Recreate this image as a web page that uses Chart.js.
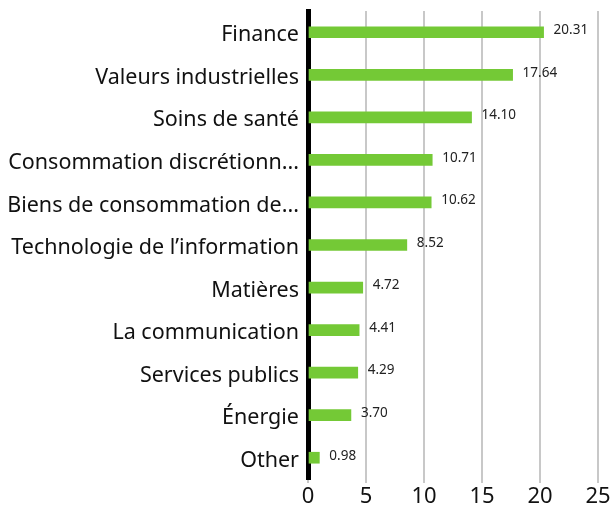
<!DOCTYPE html>
<html>
<head>
<meta charset="utf-8">
<script src="https://cdn.jsdelivr.net/npm/chart.js@4"></script>
<style>
  html, body { margin: 0; padding: 0; background: #fff; }
  #wrap { width: 611px; height: 508px; }
</style>
</head>
<body>
<div id="wrap"><canvas id="Chart1"></canvas></div>
<script>
var sectors = ["Finance", "Valeurs industrielles", "Soins de santé", "Consommation discrétionn...",
    "Biens de consommation de...", "Technologie de l’information", "Matières", "La communication",
    "Services publics", "Énergie", "Other"];
var weights = [20.31, 17.64, 14.10, 10.71, 10.62, 8.52, 4.72, 4.41, 4.29, 3.70, 0.98];
var xTicks = [0, 5, 10, 15, 20, 25];

// draws the value next to each bar
var valueLabels = {
    id: 'valueLabels',
    afterDatasetsDraw: function(chart) {
        var ctx = chart.ctx;
        var meta = chart.getDatasetMeta(0);
        ctx.save();
        ctx.font = '13.5px "Noto Sans"';
        ctx.fillStyle = '#222';
        ctx.textAlign = 'left';
        ctx.textBaseline = 'middle';
        meta.data.forEach(function(bar, i) {
            ctx.fillText(weights[i].toFixed(2), bar.x + 10, bar.y - 2);
        });
        ctx.restore();
    }
};

var ctx = document.getElementById('Chart1').getContext('2d');
window.sector_chart = new Chart(ctx, {
    type: 'bar',
    data: {
        labels: sectors,
        datasets: [{
            label: "Poids",
            backgroundColor: '#74c936',
            data: weights,
            barThickness: 11
        }]
    },
    plugins: [valueLabels],
    options: {
        indexAxis: 'y',
        responsive: true,
        maintainAspectRatio: false,
        animation: false,
        layout: { padding: { top: 11, right: 13, bottom: 0, left: 0 } },
        plugins: {
            legend: { display: false },
            tooltip: { enabled: false }
        },
        scales: {
            x: {
                min: 0,
                max: 25,
                afterBuildTicks: function(axis) {
                    axis.ticks = xTicks.map(function(v) { return { value: v }; });
                },
                afterFit: function(axis) {
                    axis.height = 29;
                    axis.paddingRight = 0;
                    axis.paddingLeft = 0;
                },
                grid: {
                    color: '#c8c8c8',
                    lineWidth: 2,
                    drawTicks: true,
                    tickLength: 4
                },
                border: { display: false },
                ticks: {
                    color: '#111',
                    padding: 1,
                    font: { family: 'Noto Sans', size: 22 }
                }
            },
            y: {
                afterFit: function(axis) {
                    axis.width = 308;
                    axis.paddingTop = 0;
                    axis.paddingBottom = 0;
                },
                grid: { display: false, drawTicks: false },
                border: { display: true, color: '#000', width: 5 },
                ticks: {
                    color: '#111',
                    padding: 9,
                    labelOffset: 3,
                    autoSkip: false,
                    font: { family: 'Noto Sans', size: 21.5 }
                }
            }
        }
    }
});
</script>
</body>
</html>
